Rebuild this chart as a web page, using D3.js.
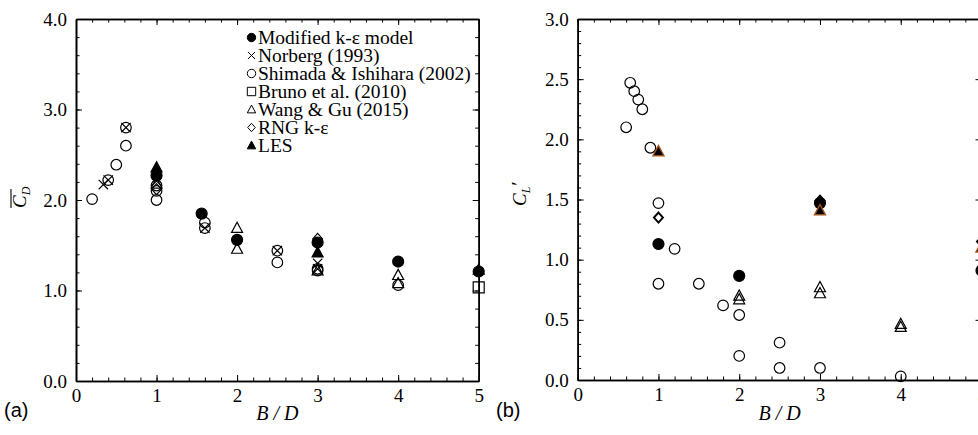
<!DOCTYPE html>
<html>
<head>
<meta charset="utf-8">
<script src="https://cdn.jsdelivr.net/npm/d3@7"></script>
<style>
body { margin: 0; background: #fff; }
svg text { font-family: "Liberation Serif", "Times New Roman", serif; fill: #000; }
</style>
</head>
<body>
<div id="vis"></div>
<script>
// tick labels
var xTicks = [0, 1, 2, 3, 4, 5];
var cdTicks = [0, 1, 2, 3, 4];
var clTicks = [0, 0.5, 1, 1.5, 2, 2.5, 3];

var seriesNames = ["Modified k-ε model", "Norberg (1993)", "Shimada & Ishihara (2002)",
	"Bruno et al. (2010)", "Wang & Gu (2015)", "RNG k-ε", "LES"];
var seriesSymbols = ["circle", "x", "circle", "square", "triangle", "diamond", "triangle"];
var seriesFilled = [true, false, false, false, false, false, true];

// (a) mean drag coefficient vs B/D
var cdModified = [[1, 2.27], [1.56, 1.85], [2, 1.56], [3, 1.53], [4, 1.32], [5, 1.21]];
var cdNorberg = [[0.34, 2.17], [0.4, 2.22], [0.62, 2.8], [1, 2.21], [1.6, 1.69], [2.5, 1.44], [3, 1.3], [3, 1.24]];
var cdShimada = [[0.2, 2.01], [0.4, 2.22], [0.5, 2.39], [0.62, 2.6], [0.62, 2.8], [1, 2.0], [1, 2.1], [1, 2.16],
	[1.6, 1.75], [1.6, 1.69], [2.5, 1.31], [2.5, 1.44], [3, 1.22], [3, 1.24], [4, 1.06]];
var cdBruno = [[5, 1.035]];
var cdWang = [[1, 2.18], [2, 1.69], [2, 1.46], [3, 1.22], [4, 1.17], [4, 1.08]];
var cdRng = [[1, 2.12], [3, 1.57]];
var cdLes = [[1, 2.36], [3, 1.42], [5, 1.23]];

// (b) rms lift coefficient vs B/D
var clModified = [[1, 1.13], [2, 0.865], [3, 1.47], [5, 0.91]];
var clShimada = [[0.6, 2.1], [0.65, 2.47], [0.7, 2.4], [0.75, 2.33], [0.8, 2.25], [0.9, 1.93], [1, 1.47], [1, 0.8],
	[1.2, 1.09], [1.5, 0.8], [1.8, 0.62], [2, 0.54], [2, 0.2], [2.5, 0.31], [2.5, 0.1], [3, 0.1], [4, 0.03]];
var clWang = [[2, 0.7], [2, 0.67], [3, 0.77], [3, 0.72], [4, 0.465], [4, 0.44]];
var clRng = [[1, 1.35], [3, 1.49], [5, 1.15]];
var clLes = [[1, 1.9], [3, 1.41], [5, 1.1]];

var W = 978, H = 435;
var serif = "'Liberation Serif', 'Times New Roman', serif";

var svg = d3.select("#vis").append("svg")
	.attr("width", W)
	.attr("height", H)
	.style("display", "block");

function markerPath (type, s) {
	if (type == "circle") {
		return "M" + s + ",0A" + s + "," + s + " 0 1 1 " + (-s) + ",0A" + s + "," + s + " 0 1 1 " + s + ",0Z";
	}
	if (type == "triangle") {
		return "M0," + (-s * 1.05) + "L" + s + "," + (s * 0.8) + "L" + (-s) + "," + (s * 0.8) + "Z";
	}
	if (type == "square") {
		return "M" + (-s) + "," + (-s) + "H" + s + "V" + s + "H" + (-s) + "Z";
	}
	if (type == "diamond") {
		return "M0," + (-s) + "L" + (s * 0.9) + ",0L0," + s + "L" + (-s * 0.9) + ",0Z";
	}
	var k = s * 0.85;
	return "M" + (-k) + "," + (-k) + "L" + k + "," + k + "M" + (-k) + "," + k + "L" + k + "," + (-k);
}

function drawPanel (p) {
	var x = d3.scaleLinear().domain([0, 5]).range(p.xRange);
	var y = d3.scaleLinear().domain(p.yDomain).range(p.yRange);
	var g = svg.append("g");

	var x0 = p.xRange[0], x1 = p.xRange[1];
	var y0 = p.yRange[0], y1 = p.yRange[1];
	var xMinor = d3.range(0, 5.001, 0.2);
	var yMinor = d3.range(p.yDomain[0], p.yDomain[1] + 0.001, p.yMinorStep);
	var none = function () { return ""; };

	// minor ticks on all four sides
	g.append("g").attr("transform", "translate(0," + y0 + ")")
	.call(d3.axisBottom(x).tickValues(xMinor).tickSize(-3.5).tickSizeOuter(0).tickFormat(none));
	g.append("g").attr("transform", "translate(0," + y1 + ")")
	.call(d3.axisTop(x).tickValues(xMinor).tickSize(-3.5).tickSizeOuter(0).tickFormat(none));
	g.append("g").attr("transform", "translate(" + x0 + ",0)")
	.call(d3.axisLeft(y).tickValues(yMinor).tickSize(-3.5).tickSizeOuter(0).tickFormat(none));
	g.append("g").attr("transform", "translate(" + x1 + ",0)")
	.call(d3.axisRight(y).tickValues(yMinor).tickSize(-3.5).tickSizeOuter(0).tickFormat(none));

	// major ticks
	g.append("g").attr("class", "labels").attr("transform", "translate(0," + y0 + ")")
	.call(d3.axisBottom(x).tickValues(xTicks).tickSize(-6).tickSizeOuter(0).tickPadding(7.5).tickFormat(d3.format("d")));
	g.append("g").attr("transform", "translate(0," + y1 + ")")
	.call(d3.axisTop(x).tickValues(xTicks).tickSize(-6).tickSizeOuter(0).tickFormat(none));
	g.append("g").attr("class", "labels").attr("transform", "translate(" + x0 + ",0)")
	.call(d3.axisLeft(y).tickValues(p.yTicks).tickSize(-6).tickSizeOuter(0).tickPadding(9).tickFormat(d3.format(".1f")));
	g.append("g").attr("transform", "translate(" + x1 + ",0)")
	.call(d3.axisRight(y).tickValues(p.yTicks).tickSize(-6).tickSizeOuter(0).tickFormat(none));

	g.selectAll(".domain").attr("stroke", "#000").attr("stroke-width", 1.6);
	g.selectAll(".tick line").attr("stroke", "#000").attr("stroke-width", 1);
	g.selectAll(".labels").attr("font-family", serif).attr("font-size", 19);
	g.selectAll(".labels .tick text")
	.style("font-family", serif)
	.style("font-size", "19px");

	// markers
	p.series.forEach(function (s) {
		g.append("g").selectAll("path")
		.data(s.data)
		.enter()
		.append("path")
		.attr("transform", function (d) {
			return "translate(" + x(d[0]) + "," + y(d[1]) + ")";
		})
		.attr("d", markerPath(s.symbol, s.size || 5.5))
		.attr("fill", s.filled ? "#000" : "none")
		.attr("stroke", s.stroke || "#000")
		.attr("stroke-width", s.width || 1.2);
	});

	// x axis title
	g.append("text")
	.attr("x", (x0 + x1) / 2)
	.attr("y", 420)
	.attr("text-anchor", "middle")
	.style("font-family", serif)
	.style("font-style", "italic")
	.attr("font-size", 20)
	.text("B / D");

	// panel letter
	g.append("text")
	.attr("x", p.letterX)
	.attr("y", 417)
	.style("font-family", "'Liberation Sans', Arial, sans-serif")
	.attr("font-size", 20)
	.text(p.letter);

	return g;
}

var panelA = drawPanel({
	xRange: [76, 478.7],
	yDomain: [0, 4],
	yRange: [381, 19],
	yTicks: cdTicks,
	yMinorStep: 0.2,
	letter: "(a)",
	letterX: 4,
	series: [
		{data: cdShimada, symbol: "circle", size: 5.3},
		{data: cdBruno, symbol: "square", size: 5.5},
		{data: cdWang, symbol: "triangle", size: 5.5},
		{data: cdRng, symbol: "diamond", size: 5.5},
		{data: cdNorberg, symbol: "x", size: 5.5},
		{data: cdLes, symbol: "triangle", size: 5.5, filled: true},
		{data: cdModified, symbol: "circle", size: 5.5, filled: true}
	]
});

var panelB = drawPanel({
	xRange: [577.7, 981.5],
	yDomain: [0, 3],
	yRange: [380, 19],
	yTicks: clTicks,
	yMinorStep: 0.1,
	letter: "(b)",
	letterX: 496,
	series: [
		{data: clShimada, symbol: "circle", size: 5.3},
		{data: clWang, symbol: "triangle", size: 5.5},
		{data: clRng, symbol: "diamond", size: 5, width: 2},
		{data: clModified, symbol: "circle", size: 5.5, filled: true},
		{data: clLes, symbol: "triangle", size: 5.5, filled: true, stroke: "#a0521e", width: 1.4}
	]
});

// y axis titles
var labA = svg.append("g").attr("transform", "translate(26,208) rotate(-90)");
var tA = labA.append("text").style("font-style", "italic").attr("font-size", 19);
tA.append("tspan").text("C");
tA.append("tspan").attr("font-size", 12).attr("dy", 4).text("D");
labA.append("line")
.attr("x1", 0).attr("x2", 19)
.attr("y1", -15).attr("y2", -15)
.attr("stroke", "#000").attr("stroke-width", 1.1);

var labB = svg.append("g").attr("transform", "translate(526,206) rotate(-90)");
var tB = labB.append("text").style("font-style", "italic").attr("font-size", 19);
tB.append("tspan").text("C");
tB.append("tspan").attr("font-size", 12).attr("dy", 4).text("L");
tB.append("tspan").attr("dy", -5).text("′");

// legend
var legend = svg.append("g").selectAll("g")
	.data(seriesNames)
	.enter()
	.append("g")
	.attr("transform", function (d, i) {
		return "translate(251.5," + (37.5 + i * 18) + ")";
	});

legend.append("path")
.attr("d", function (d, i) { return markerPath(seriesSymbols[i], 4.2); })
.attr("fill", function (d, i) { return seriesFilled[i] ? "#000" : "none"; })
.attr("stroke", "#000")
.attr("stroke-width", 1);

legend.append("text")
.attr("x", 6.5)
.attr("dy", "0.35em")
.attr("font-size", 19.5)
.text(function (d) { return d; });
</script>
</body>
</html>
